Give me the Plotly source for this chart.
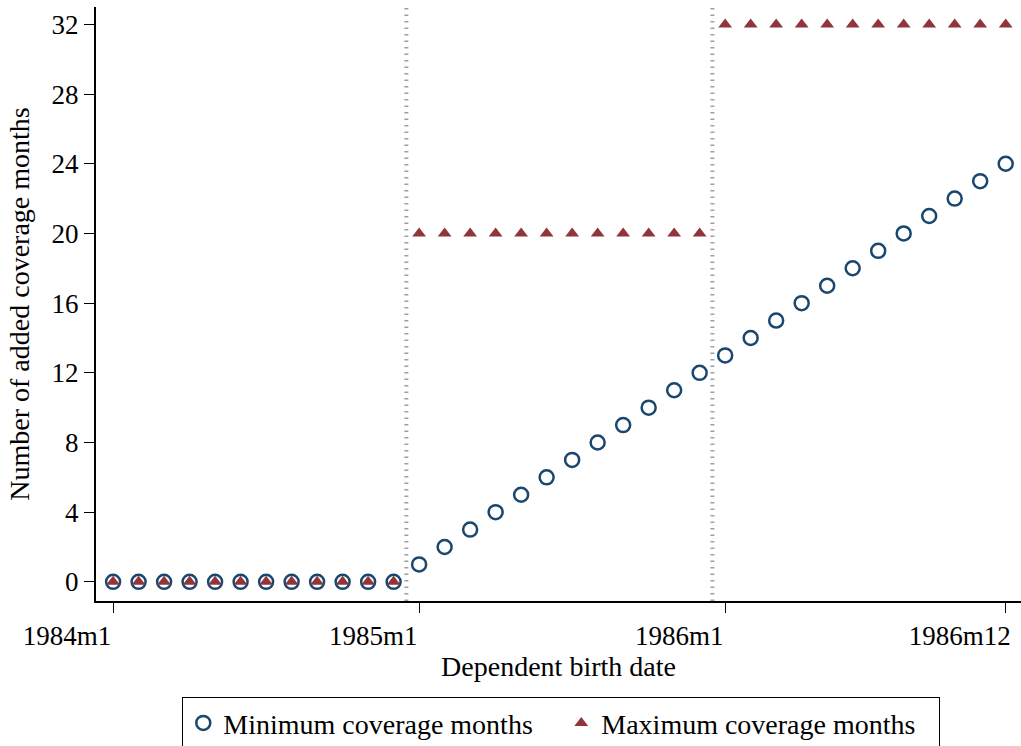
import plotly.graph_objects as go

# Birth month of the dependent (Stata monthly format)
months = [
    "1984m1", "1984m2", "1984m3", "1984m4", "1984m5", "1984m6",
    "1984m7", "1984m8", "1984m9", "1984m10", "1984m11", "1984m12",
    "1985m1", "1985m2", "1985m3", "1985m4", "1985m5", "1985m6",
    "1985m7", "1985m8", "1985m9", "1985m10", "1985m11", "1985m12",
    "1986m1", "1986m2", "1986m3", "1986m4", "1986m5", "1986m6",
    "1986m7", "1986m8", "1986m9", "1986m10", "1986m11", "1986m12",
]
min_months = [
    0, 0, 0, 0, 0, 0, 0, 0, 0, 0, 0, 0,
    1, 2, 3, 4, 5, 6, 7, 8, 9, 10, 11, 12,
    13, 14, 15, 16, 17, 18, 19, 20, 21, 22, 23, 24,
]
max_months = [
    0, 0, 0, 0, 0, 0, 0, 0, 0, 0, 0, 0,
    20, 20, 20, 20, 20, 20, 20, 20, 20, 20, 20, 20,
    32, 32, 32, 32, 32, 32, 32, 32, 32, 32, 32, 32,
]
x_ticks = ["1984m1", "1985m1", "1986m1", "1986m12"]
y_ticks = [0, 4, 8, 12, 16, 20, 24, 28, 32]
# first month of each new regime; a dotted line sits just before it
break_months = ["1985m1", "1986m1"]

NAVY = "#1a476f"
MAROON = "#90353b"
FONT = "Liberation Serif, Times New Roman, serif"

fig = go.Figure()

fig.add_trace(go.Scatter(
    x=months, y=min_months, mode="markers", name="Minimum coverage months",
    marker=dict(symbol="circle-open", size=14, color=NAVY, line=dict(width=2.5, color=NAVY)),
))
fig.add_trace(go.Scatter(
    x=months, y=max_months, mode="markers", name="Maximum coverage months",
    marker=dict(symbol="triangle-up", size=12, color=MAROON, line=dict(width=0)),
))

for m in break_months:
    pos = months.index(m) - 0.5
    fig.add_shape(
        type="line", xref="x", yref="paper", x0=pos, x1=pos, y0=0, y1=1,
        line=dict(color="#a0a0a0", width=4, dash="1.5px,5px"), layer="below",
    )

fig.update_layout(
    width=1021, height=746,
    margin=dict(l=96, r=0, t=7, b=145, autoexpand=False),
    plot_bgcolor="white", paper_bgcolor="white",
    font=dict(family=FONT, size=28, color="black"),
    showlegend=True,
    legend=dict(
        orientation="h", x=0.503, xanchor="center", y=-0.162, yanchor="top",
        bordercolor="black", borderwidth=1, bgcolor="white",
        font=dict(size=28), itemwidth=30, entrywidth=333,
    ),
)

fig.update_xaxes(
    type="category", categoryorder="array", categoryarray=months,
    range=[-0.67, 35.6], automargin=False,
    tickmode="array", tickvals=x_ticks, ticktext=x_ticks,
    ticks="outside", ticklen=10, tickcolor="black", tickwidth=1,
    ticklabelshift=-46,
    tickfont=dict(size=27),
    showline=True, linecolor="black", linewidth=2,
    showgrid=False, zeroline=False,
    title=dict(text="Dependent birth date", font=dict(size=28), standoff=3),
)
fig.update_yaxes(
    range=[-1.1, 33.0], automargin=False,
    tickmode="array", tickvals=y_ticks,
    ticks="outside", ticklen=10, tickcolor="black", tickwidth=1,
    tickfont=dict(size=27),
    showline=True, linecolor="black", linewidth=2,
    showgrid=False, zeroline=False,
    title=dict(text="Number of added coverage months", font=dict(size=28), standoff=14),
)

# drop the page's default body margin so the figure sits at the window origin
fig.write_html(
    "out.html",
    config={"displayModeBar": False},
    post_script="document.body.style.margin = '0';",
)
